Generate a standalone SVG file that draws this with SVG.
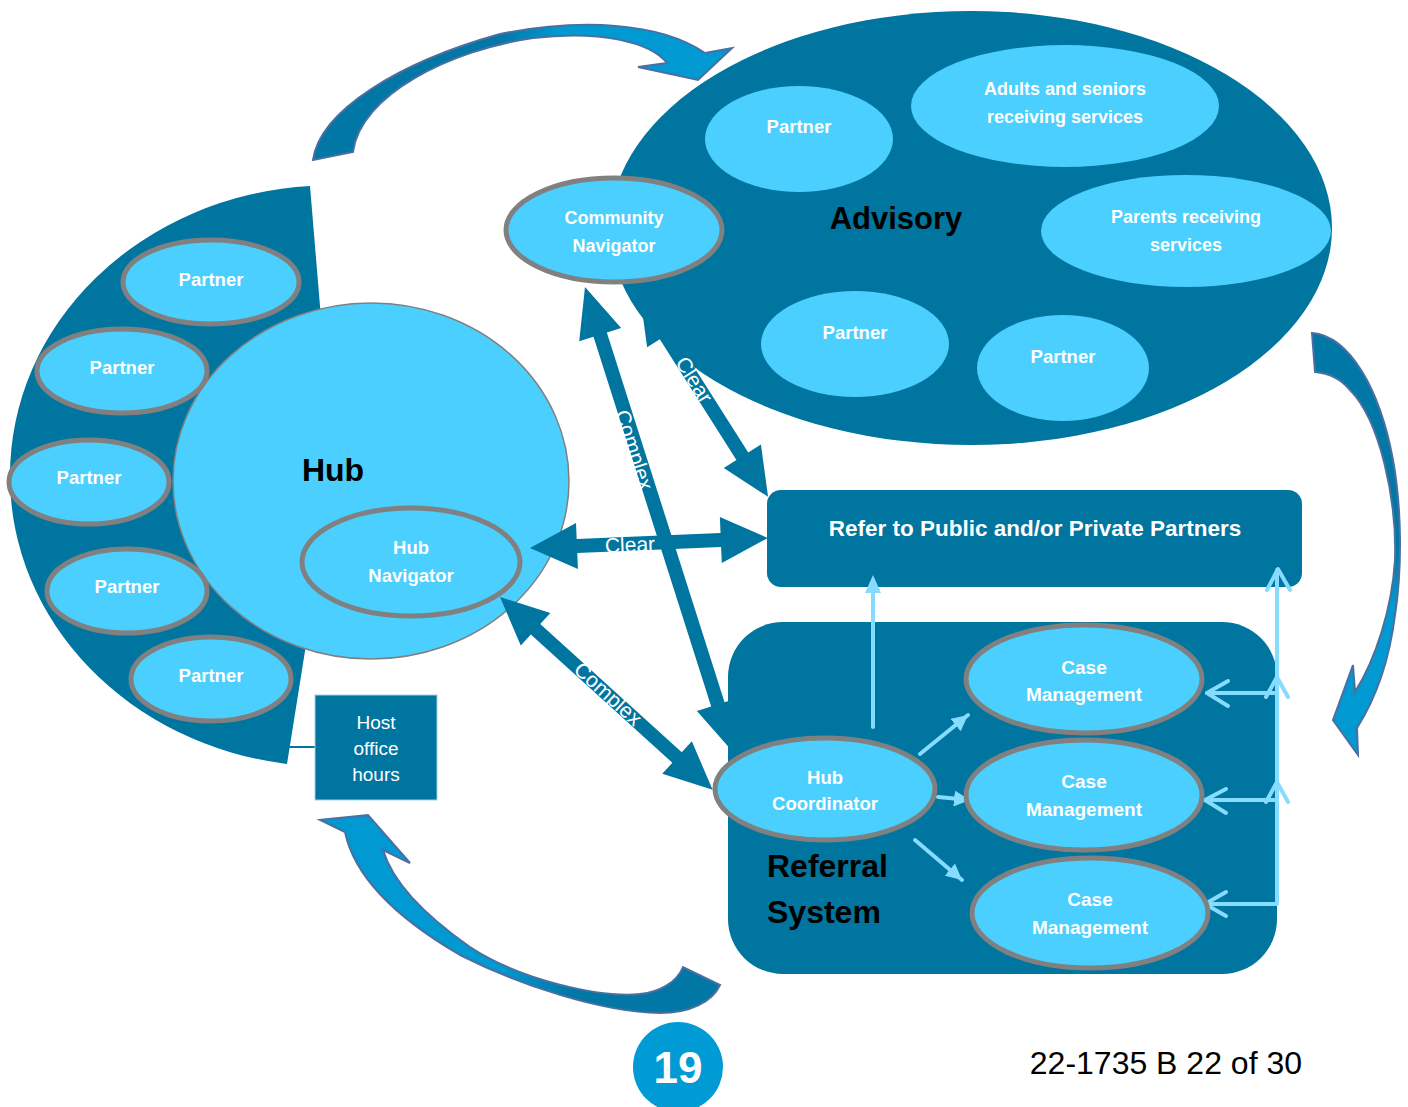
<svg xmlns="http://www.w3.org/2000/svg" width="1408" height="1107" viewBox="0 0 1408 1107">
<defs>
<style>
.dk{fill:#00759F}
.lt{fill:#4ACFFE}
.ls{fill:#4ACFFE;stroke:#808080;stroke-width:5}
.wt{font-family:"Liberation Sans",Arial,sans-serif;font-weight:bold;fill:#fff;text-anchor:middle}
.bt{font-family:"Liberation Sans",Arial,sans-serif;font-weight:bold;fill:#000}
.al{font-family:"Liberation Sans",Arial,sans-serif;fill:#fff;text-anchor:middle;font-size:21px}
.lb{stroke:#86DCFF;stroke-width:4;fill:none;stroke-linecap:round;stroke-linejoin:round}
.ca{stroke:#4A6FA0;stroke-width:2}
</style>
<marker id="mh" markerUnits="userSpaceOnUse" markerWidth="18" markerHeight="16" refX="16" refY="8" orient="auto">
<path d="M0,0 L16,8 L0,16 Z" fill="#86DCFF"/>
</marker>
<linearGradient id="g1" gradientUnits="userSpaceOnUse" x1="313" y1="100" x2="732" y2="60">
<stop offset="0" stop-color="#0077A5"/><stop offset="0.45" stop-color="#0077A5"/><stop offset="0.6" stop-color="#0099D2"/><stop offset="1" stop-color="#0099D2"/>
</linearGradient>
<linearGradient id="g2" gradientUnits="userSpaceOnUse" x1="1350" y1="333" x2="1350" y2="755">
<stop offset="0" stop-color="#0077A5"/><stop offset="0.5" stop-color="#0077A5"/><stop offset="0.65" stop-color="#0099D2"/><stop offset="1" stop-color="#0099D2"/>
</linearGradient>
<linearGradient id="g3" gradientUnits="userSpaceOnUse" x1="330" y1="830" x2="720" y2="1000">
<stop offset="0" stop-color="#0099D2"/><stop offset="0.5" stop-color="#0099D2"/><stop offset="0.68" stop-color="#0077A5"/><stop offset="1" stop-color="#0077A5"/>
</linearGradient>
</defs>
<rect width="1408" height="1107" fill="#fff"/>

<!-- curved block arrows -->
<g id="curved-arrows">
<path class="ca" fill="url(#g1)" d="M313,160 C320,110 400,62 500,34 C580,18 660,22 705,53 L732,48 L698,80 L638,67 L667,63 C650,42 600,30 533,38 C450,50 360,95 353,152 Z"/>
<path class="ca" fill="url(#g2)" d="M1312,333 C1350,336 1380,390 1393,460 C1402,510 1402,570 1395,615 C1390,655 1378,695 1357,728 L1358,755 L1333,720 L1353,665 L1355,692 C1375,660 1392,610 1395,560 C1397,500 1380,420 1350,390 C1340,378 1328,373 1315,372 Z"/>
<path class="ca" fill="url(#g3)" d="M345,832 L320,820 L368,815 L410,863 L383,850 C392,880 420,912 470,947 C520,980 600,998 640,994 C660,992 677,982 683,967 L720,985 C712,1002 690,1013 660,1013 C600,1012 520,985 460,955 C400,920 355,880 345,832 Z"/>
</g>

<!-- Hub -->
<g id="hub-ring">
<path class="dk" d="M310,186 A320,290 0 0 0 10,477 A320,290 0 0 0 287,764 L305,651 L330,480 L320,306 Z"/>
<line x1="289" y1="747" x2="316" y2="747" stroke="#00759F" stroke-width="2"/>
</g>
<g id="hub">
<ellipse cx="371" cy="481" rx="198" ry="178" class="lt" stroke="#808080" stroke-width="1.5"/>
<text class="bt" x="333" y="481" font-size="32" text-anchor="middle">Hub</text>
</g>
<g id="partner-l1"><ellipse cx="211" cy="282" rx="88" ry="42" class="ls"/><text class="wt" x="211" y="286" font-size="18.5">Partner</text></g>
<g id="partner-l2"><ellipse cx="122" cy="371" rx="85" ry="42" class="ls"/><text class="wt" x="122" y="374" font-size="18.5">Partner</text></g>
<g id="partner-l3"><ellipse cx="89" cy="482" rx="80" ry="42" class="ls"/><text class="wt" x="89" y="484" font-size="18.5">Partner</text></g>
<g id="partner-l4"><ellipse cx="127" cy="591" rx="80" ry="42" class="ls"/><text class="wt" x="127" y="593" font-size="18.5">Partner</text></g>
<g id="partner-l5"><ellipse cx="211" cy="679" rx="80" ry="42" class="ls"/><text class="wt" x="211" y="682" font-size="18.5">Partner</text></g>
<g id="hub-navigator"><ellipse cx="411" cy="562" rx="109" ry="54" class="ls"/><text class="wt" x="411" y="554" font-size="18.5">Hub</text><text class="wt" x="411" y="582" font-size="18.5">Navigator</text></g>

<g id="host-office-hours">
<rect x="315" y="695" width="122" height="105" class="dk" stroke="#9FD3E6" stroke-width="1"/>
<text x="376" y="729" font-family="Liberation Sans, Arial, sans-serif" font-size="19" fill="#fff" text-anchor="middle">Host</text>
<text x="376" y="755" font-family="Liberation Sans, Arial, sans-serif" font-size="19" fill="#fff" text-anchor="middle">office</text>
<text x="376" y="781" font-family="Liberation Sans, Arial, sans-serif" font-size="19" fill="#fff" text-anchor="middle">hours</text>
</g>

<!-- Advisory -->
<g id="advisory">
<ellipse cx="971" cy="228" rx="361" ry="217" class="dk"/>
<text class="bt" x="896" y="229" font-size="31" text-anchor="middle">Advisory</text>
</g>
<g id="adv-partner1"><ellipse cx="799" cy="139" rx="94" ry="53" class="lt"/><text class="wt" x="799" y="133" font-size="18.5">Partner</text></g>
<g id="adv-adults"><ellipse cx="1065" cy="106" rx="154" ry="61" class="lt"/><text class="wt" x="1065" y="95" font-size="18">Adults and seniors</text><text class="wt" x="1065" y="123" font-size="18">receiving services</text></g>
<g id="adv-parents"><ellipse cx="1186" cy="231" rx="145" ry="56" class="lt"/><text class="wt" x="1186" y="223" font-size="18">Parents receiving</text><text class="wt" x="1186" y="251" font-size="18">services</text></g>
<g id="adv-partner2"><ellipse cx="855" cy="344" rx="94" ry="53" class="lt"/><text class="wt" x="855" y="339" font-size="18.5">Partner</text></g>
<g id="adv-partner3"><ellipse cx="1063" cy="368" rx="86" ry="53" class="lt"/><text class="wt" x="1063" y="363" font-size="18.5">Partner</text></g>

<!-- Refer box -->
<g id="refer">
<rect x="767" y="490" width="535" height="97" rx="14" class="dk"/>
<text class="wt" x="1035" y="536" font-size="22.5">Refer to Public and/or Private Partners</text>
</g>

<!-- Referral system -->
<g id="referral-system">
<rect x="728" y="622" width="549" height="352" rx="55" class="dk"/>
<text class="bt" x="767" y="877" font-size="32">Referral</text>
<text class="bt" x="767" y="923" font-size="32">System</text>
</g>

<!-- connectors -->
<g id="connectors">
<g id="light-connectors">
<line class="lb" x1="873" y1="727" x2="873" y2="592"/>
<path d="M873,575 L881,593 L865,593 Z" fill="#86DCFF"/>
<line class="lb" x1="920" y1="754" x2="968" y2="715" marker-end="url(#mh)"/>
<line class="lb" x1="938" y1="797" x2="970" y2="800" marker-end="url(#mh)"/>
<line class="lb" x1="915" y1="840" x2="962" y2="880" marker-end="url(#mh)"/>
<polyline class="lb" points="1207,693 1277,693"/>
<polyline class="lb" points="1205,800 1277,800"/>
<polyline class="lb" points="1207,904 1277,904 1277,570"/>
<polyline class="lb" points="1228,681 1207,693 1228,706"/>
<polyline class="lb" points="1226,789 1205,800 1226,813"/>
<polyline class="lb" points="1226,892 1205,904 1226,916"/>
<polyline class="lb" points="1266,697 1277,677 1288,697"/>
<polyline class="lb" points="1266,802 1277,782 1288,802"/>
<polyline class="lb" points="1267,590 1278,569 1290,590"/>
</g>
<g id="dark-connectors" class="dk">
<g transform="translate(585,287) rotate(72.34)"><polygon points="0,0 50,-22 50,-7 438,-7 438,-22 488,0 438,22 438,7 50,7 50,22"/></g>
<g transform="translate(640,295) rotate(57.6)"><polygon points="0,0 48,-22 48,-7 191,-7 191,-22 239,0 191,22 191,7 48,7 48,22"/></g>
<g transform="translate(530,548) rotate(-2.4)"><polygon points="0,0 47,-23 47,-7 191,-7 191,-23 238,0 191,23 191,7 47,7 47,23"/></g>
<g transform="translate(500,597) rotate(42.2)"><polygon points="0,0 48,-22 48,-7 239,-7 239,-22 287,0 239,22 239,7 48,7 48,22"/></g>
</g>
<text class="al" transform="translate(634,450) rotate(72.34)" dy="7">Complex</text>
<text class="al" transform="translate(694,380) rotate(57.6)" dy="7">Clear</text>
<text class="al" transform="translate(630,545) rotate(-2.4)" dy="7">Clear</text>
<text class="al" transform="translate(608,694) rotate(42.2)" dy="7">Complex</text>
</g>

<g id="community-navigator"><ellipse cx="614" cy="230" rx="108" ry="52" class="ls"/><text class="wt" x="614" y="224" font-size="18">Community</text><text class="wt" x="614" y="252" font-size="18">Navigator</text></g>
<g id="hub-coordinator"><ellipse cx="825" cy="789" rx="110" ry="51" class="ls"/><text class="wt" x="825" y="784" font-size="18.5">Hub</text><text class="wt" x="825" y="810" font-size="18.5">Coordinator</text></g>
<g id="case-mgmt-1"><ellipse cx="1084" cy="679" rx="118" ry="54" class="ls"/><text class="wt" x="1084" y="674" font-size="19">Case</text><text class="wt" x="1084" y="701" font-size="19">Management</text></g>
<g id="case-mgmt-2"><ellipse cx="1084" cy="795" rx="118" ry="55" class="ls"/><text class="wt" x="1084" y="788" font-size="19">Case</text><text class="wt" x="1084" y="816" font-size="19">Management</text></g>
<g id="case-mgmt-3"><ellipse cx="1090" cy="913" rx="118" ry="55" class="ls"/><text class="wt" x="1090" y="906" font-size="19">Case</text><text class="wt" x="1090" y="934" font-size="19">Management</text></g>

<g id="page-number">
<circle cx="678" cy="1067" r="45" fill="#009BD4"/>
<text class="wt" x="678" y="1083" font-size="44">19</text>
</g>
<text x="1302" y="1074" font-family="Liberation Sans, Arial, sans-serif" font-size="32" fill="#000" text-anchor="end">22-1735 B 22 of 30</text>
</svg>
